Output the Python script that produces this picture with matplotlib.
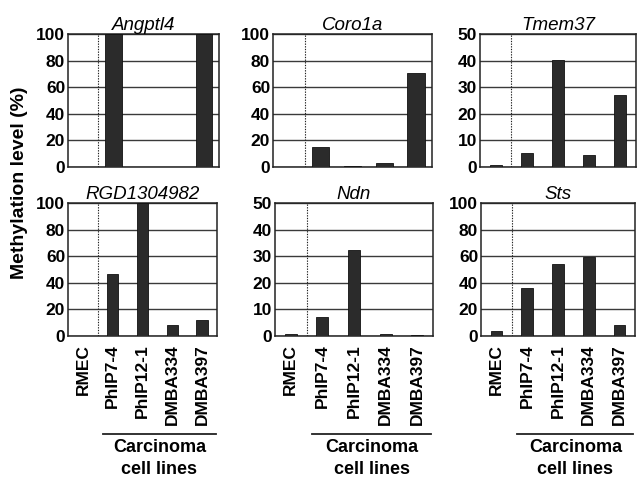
import matplotlib
matplotlib.use('Agg')
import matplotlib.pyplot as plt
from matplotlib.lines import Line2D
from matplotlib.transforms import blended_transform_factory

plt.rcParams['font.family'] = ['Liberation Sans', 'DejaVu Sans']

#------------------------------------------------------------------------------
cell_lines = ['RMEC', 'PhIP7-4', 'PhIP12-1', 'DMBA334', 'DMBA397']

genes = ['Angptl4', 'Coro1a', 'Tmem37', 'RGD1304982', 'Ndn', 'Sts']
angptl4 = [0, 100, 0, 0, 100]
coro1a = [0, 15, 1, 3, 70.5]
tmem37 = [0.9, 5.2, 40.4, 4.4, 27]
rgd1304982 = [0, 46.5, 100, 8.1, 12.4]
ndn = [0.6, 7.3, 32.2, 0.6, 0.5]
sts = [3.8, 35.8, 54.2, 59.7, 8.1]
values = [angptl4, coro1a, tmem37, rgd1304982, ndn, sts]
y_max = [100, 100, 50, 100, 50, 100]

#------------------------------------------------------------------------------
W, H = 638, 478
fig = plt.figure(figsize=(W / 100, H / 100), dpi=100)

# pixel boxes (left, right, top, bottom)
boxes = [(68, 219, 34, 167), (273, 432, 34, 167), (480, 636, 34, 167),
         (68, 217, 203, 336), (275, 433, 203, 336), (481, 635, 203, 336)]
bar_w = [0.55, 0.55, 0.38, 0.38, 0.38, 0.38]

bar_col = '#2b2b2b'
grid_col = '#3a3a3a'

axes = []
for i, (l, r, t, b) in enumerate(boxes):
    ax = fig.add_axes([l / W, 1 - b / H, (r - l) / W, (b - t) / H])
    axes.append(ax)
    x = range(len(cell_lines))
    ax.bar(x, values[i], width=bar_w[i], color=bar_col, edgecolor='#111111',
           linewidth=0.6, zorder=3)
    ax.set_xlim(-0.5, 4.5)
    ax.set_ylim(0, y_max[i])
    ax.set_yticks(range(0, y_max[i] + 1, y_max[i] // 5))
    ax.yaxis.grid(True, color=grid_col, linewidth=1.0, zorder=1)
    ax.set_axisbelow(True)
    ax.axvline(0.5, color='#222222', linestyle=(0, (1.2, 1.2)), linewidth=0.8,
               zorder=2)
    for s in ax.spines.values():
        s.set_linewidth(1.1)
        s.set_color('#222222')
    ax.tick_params(axis='both', length=0)
    ax.tick_params(axis='y', pad=2)
    for lab in ax.get_yticklabels():
        lab.set_fontsize(12.5)
        lab.set_fontweight('bold')
    ax.set_title(genes[i], fontsize=13.5, fontstyle='italic', pad=3)
    ax.set_xticks(list(x))
    if i < 3:
        ax.set_xticklabels([])
    else:
        ax.set_xticklabels(cell_lines, rotation=90, fontsize=12.5,
                           fontweight='bold')
        ax.tick_params(axis='x', pad=6)
        # bracket line + group label under the carcinoma lines
        tr = blended_transform_factory(ax.transData, fig.transFigure)
        fig.add_artist(Line2D([0.68, 4.45], [1 - 434 / H, 1 - 434 / H],
                              transform=tr, color='#222222', linewidth=1.3))
        xc = (0.68 + 4.45) / 2
        fig.text(xc, 1 - 448 / H, 'Carcinoma', transform=tr, ha='center',
                 va='center', fontsize=13, fontweight='bold')
        fig.text(xc, 1 - 469 / H, 'cell lines', transform=tr, ha='center',
                 va='center', fontsize=13, fontweight='bold')

fig.text(20 / W, 1 - 183 / H, 'Methylation level (%)', rotation=90,
         ha='center', va='center', fontsize=14, fontweight='bold')

fig.savefig('out.png', dpi=100)
